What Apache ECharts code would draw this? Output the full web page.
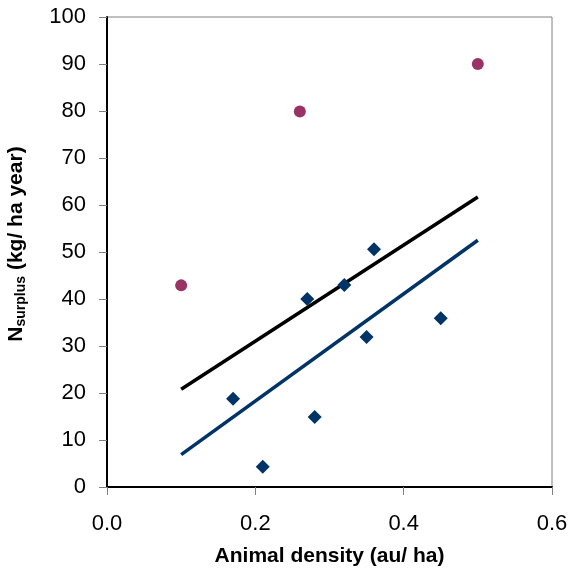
<!DOCTYPE html>
<html>
<head>
<meta charset="utf-8">
<script src="https://cdn.jsdelivr.net/npm/echarts@6/dist/echarts.min.js"></script>
<style>html,body{margin:0;padding:0;background:#fff;}#c{width:569px;height:570px;}</style>
</head>
<body>
<div id="c"></div>
<script>
// Data
var circlePoints = [[0.10, 42.9], [0.26, 79.9], [0.50, 90.0]];
var diamondPoints = [[0.17, 18.8], [0.21, 4.3], [0.27, 40.0], [0.28, 14.9], [0.32, 43.0], [0.35, 31.9], [0.36, 50.6], [0.45, 35.9]];
var blackTrend = [[0.10, 20.8], [0.50, 61.7]];
var blueTrend = [[0.10, 6.9], [0.50, 52.5]];
var xTicks = [0, 0.2, 0.4, 0.6];
var yTicks = [0, 10, 20, 30, 40, 50, 60, 70, 80, 90, 100];

var FONT = '"Liberation Sans", Arial, sans-serif';
var chart = echarts.init(document.getElementById('c'), null, {renderer: 'canvas'});
chart.setOption({
  animation: false,
  backgroundColor: '#fff',
  grid: {left: 107, right: 17, top: 17, bottom: 83, containLabel: false, outerBoundsMode: 'none',
         show: true, borderColor: '#808080', borderWidth: 1, backgroundColor: 'transparent'},
  xAxis: {
    type: 'value', min: 0, max: 0.6, interval: 0.2,
    axisLine: {show: true, onZero: false, lineStyle: {color: '#000', width: 2}},
    axisTick: {show: true, inside: false, length: 8, lineStyle: {color: '#808080', width: 1}},
    splitLine: {show: false},
    axisLabel: {margin: 26, fontFamily: FONT, fontSize: 22, color: '#000', formatter: function (v) { return v.toFixed(1); }},
    name: 'Animal density (au/ ha)', nameLocation: 'middle', nameGap: 59,
    nameTextStyle: {fontFamily: FONT, fontSize: 21, fontWeight: 'bold', color: '#000'}
  },
  yAxis: {
    type: 'value', min: 0, max: 100, interval: 10,
    axisLine: {show: true, onZero: false, lineStyle: {color: '#000', width: 2}},
    axisTick: {show: true, inside: false, length: 8, lineStyle: {color: '#808080', width: 1}},
    splitLine: {show: false},
    axisLabel: {margin: 21, fontFamily: FONT, fontSize: 22, color: '#000'},
    name: '{b|N}{s|surplus}{b| (kg/ ha year)}', nameLocation: 'middle', nameGap: 79, nameRotate: 90,
    nameTextStyle: {
      fontFamily: FONT, fontWeight: 'bold', color: '#000', padding: [0, 0, 0, 16],
      rich: {
        b: {fontFamily: FONT, fontSize: 21, fontWeight: 'bold', color: '#000', lineHeight: 24},
        s: {fontFamily: FONT, fontSize: 14, fontWeight: 'bold', color: '#000', lineHeight: 14, verticalAlign: 'bottom'}
      }
    }
  },
  series: [
    {type: 'line', data: blackTrend, symbol: 'none', lineStyle: {color: '#000', width: 3.5}, z: 3},
    {type: 'line', data: blueTrend, symbol: 'none', lineStyle: {color: '#003366', width: 3.5}, z: 3},
    {type: 'scatter', data: diamondPoints, symbol: 'diamond', symbolSize: [14, 14], itemStyle: {color: '#003366', opacity: 1}, z: 4},
    {type: 'scatter', data: circlePoints, symbol: 'circle', symbolSize: 12, itemStyle: {color: '#993366', opacity: 1}, z: 4}
  ]
});
</script>
</body>
</html>
